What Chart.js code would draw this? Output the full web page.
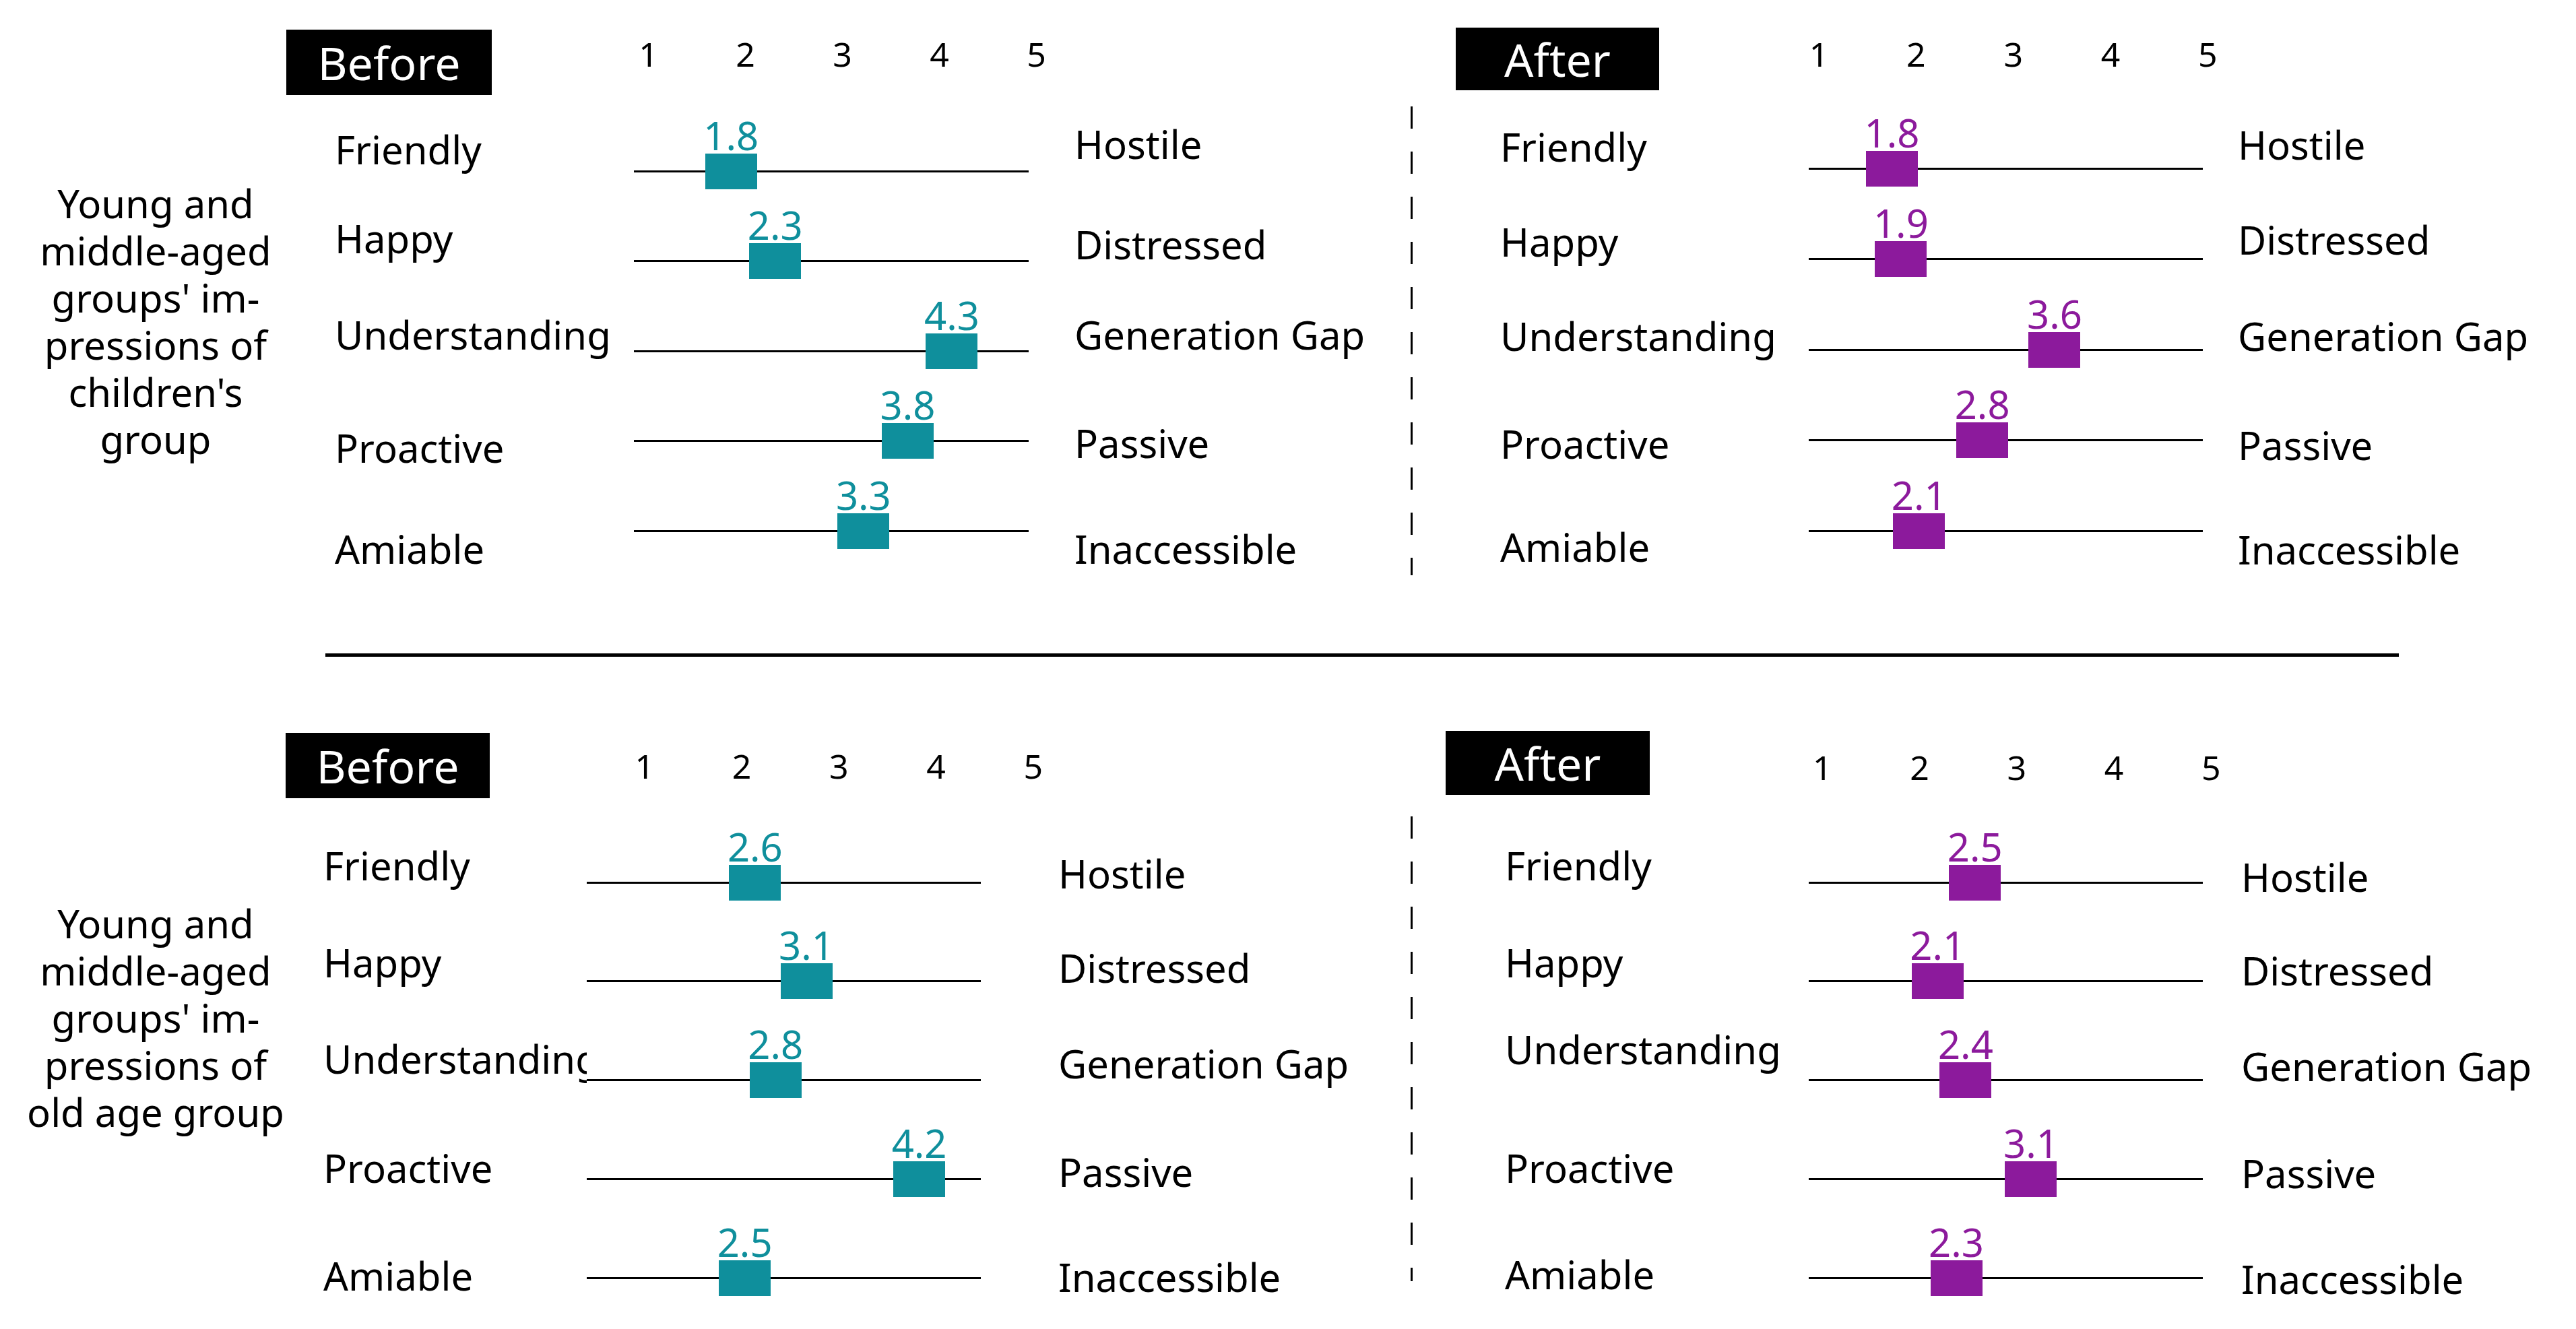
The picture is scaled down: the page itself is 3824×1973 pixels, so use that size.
<!DOCTYPE html>
<html><head><meta charset="utf-8">
<script src="https://cdn.jsdelivr.net/npm/chart.js@4.4.1/dist/chart.umd.min.js"></script>
<style>
html,body{margin:0;padding:0;background:#fff;width:3824px;height:1973px;overflow:hidden;font-family:"Noto Sans",sans-serif;}
.tag{position:absolute;background:#000;color:#fff;font-size:68px;display:flex;align-items:center;justify-content:center;}
.group{position:absolute;text-align:center;font-size:58px;line-height:70px;color:#000;white-space:nowrap;}
.hsep{position:absolute;background:#000;}
.vdash{position:absolute;width:3px;background:repeating-linear-gradient(to bottom,#000 0 33px,transparent 33px 67px);}
canvas{position:absolute;}
</style></head><body>
<script>
// ---- data ----
const leftLabels = ['Friendly', 'Happy', 'Understanding', 'Proactive', 'Amiable'];
const rightLabels = ['Hostile', 'Distressed', 'Generation Gap', 'Passive', 'Inaccessible'];
const tickLabels = [1, 2, 3, 4, 5];
const childrenBefore = [1.8, 2.3, 4.3, 3.8, 3.3];
const childrenAfter = [1.8, 1.9, 3.6, 2.8, 2.1];
const elderlyBefore = [2.6, 3.1, 2.8, 4.2, 2.5];
const elderlyAfter = [2.5, 2.1, 2.4, 3.1, 2.3];
const panelTitles = ['Before', 'After'];
const groupTitleChildren = ['Young and', 'middle-aged', "groups' im-", 'pressions of', "children's", 'group'];
const groupTitleElderly = ['Young and', 'middle-aged', "groups' im-", 'pressions of', 'old age group'];

// ---- styles ----
const TEAL = '#0F8F9C';
const PURPLE = '#8C1A9C';
const FONT = '"Noto Sans", sans-serif';
const MARK_W = 77, MARK_H = 53;

function addDiv(cls, css, html) {
  const d = document.createElement('div');
  d.className = cls;
  Object.assign(d.style, css);
  if (html !== undefined) d.innerHTML = html;
  document.body.appendChild(d);
  return d;
}

// titles
addDiv('tag', {left:'425px', top:'44px', width:'305px', height:'97px'}, panelTitles[0]);
addDiv('tag', {left:'2161px', top:'41px', width:'302px', height:'93px'}, panelTitles[1]);
addDiv('tag', {left:'424px', top:'1088px', width:'303px', height:'97px'}, panelTitles[0]);
addDiv('tag', {left:'2146px', top:'1085px', width:'303px', height:'95px'}, panelTitles[1]);

addDiv('group', {left:'31px', top:'267px', width:'400px'}, groupTitleChildren.join('<br>'));
addDiv('group', {left:'31px', top:'1336px', width:'400px'}, groupTitleElderly.join('<br>'));

addDiv('hsep', {left:'483px', top:'970px', width:'3078px', height:'5px'});
addDiv('vdash', {left:'2094px', top:'158px', height:'696px'});
addDiv('vdash', {left:'2094px', top:'1212px', height:'690px'});

const valueLabelPlugin = {
  id: 'valueLabels',
  afterDatasetsDraw(chart) {
    const ctx = chart.ctx;
    const meta = chart.getDatasetMeta(0);
    const ds = chart.data.datasets[0];
    ctx.save();
    ctx.font = '58px ' + FONT;
    ctx.fillStyle = ds.labelColor;
    ctx.textAlign = 'center';
    ctx.textBaseline = 'alphabetic';
    meta.data.forEach((pt, i) => {
      ctx.fillText(ds.data[i].x.toFixed(1), pt.x, pt.y - MARK_H / 2 - 5);
    });
    ctx.restore();
  }
};

function makeChart(p) {
  const cv = document.createElement('canvas');
  const W = p.leftW + p.plotW + p.rightW;
  const H = p.topH + p.plotH + p.padB;
  cv.width = W; cv.height = H;
  Object.assign(cv.style, {left: p.left + 'px', top: p.top + 'px', width: W + 'px', height: H + 'px'});
  document.body.appendChild(cv);

  const marker = document.createElement('canvas');
  marker.width = MARK_W; marker.height = MARK_H;
  const mc = marker.getContext('2d');
  mc.fillStyle = p.color;
  mc.fillRect(0, 0, MARK_W, MARK_H);

  const labelFont = {family: FONT, size: 58};
  const noPad = s => { s.paddingTop = 0; s.paddingBottom = 0; };
  new Chart(cv, {
    type: 'scatter',
    data: {
      labels: leftLabels,
      datasets: [{
        data: p.values.map((v, i) => ({x: v, y: leftLabels[i]})),
        pointStyle: marker,
        radius: 10, hoverRadius: 10,
        clip: false,
        labelColor: p.color
      }]
    },
    options: {
      responsive: false,
      animation: false,
      devicePixelRatio: 1,
      events: [],
      layout: {autoPadding: false, padding: {left: 0, right: 0, top: 0, bottom: p.padB}},
      plugins: {legend: {display: false}, tooltip: {enabled: false}},
      scales: {
        x: {type: 'linear', display: false, min: p.xMin, max: p.xMax},
        xt: {
          type: 'linear', position: 'top', min: p.tMin, max: p.tMax,
          grid: {display: false, drawTicks: false}, border: {display: false},
          ticks: {font: {family: FONT, size: 50}, color: '#000', padding: p.tickPad, autoSkip: false, maxRotation: 0},
          afterBuildTicks: s => { s.ticks = tickLabels.map(v => ({value: v})); },
          afterFit: s => { s.height = p.topH; s.paddingLeft = 0; s.paddingRight = 0; }
        },
        y: {
          type: 'category', labels: leftLabels, position: 'left', offset: false,
          grid: {color: '#000', lineWidth: 3, drawTicks: false, offset: false},
          border: {display: false},
          ticks: {display: false},
          afterFit: s => { s.width = 0; noPad(s); }
        },
        yl: {
          type: 'linear', position: 'left', min: 0, max: leftLabels.length - 1, reverse: true,
          grid: {display: false, drawTicks: false}, border: {display: false},
          afterBuildTicks: s => { s.ticks = leftLabels.map((_, i) => ({value: i + p.lOff[i]})); },
          ticks: {crossAlign: 'far', font: labelFont, color: '#000', padding: 0, autoSkip: false,
                  callback: (v, i) => leftLabels[i]},
          afterFit: s => { s.width = p.leftW; noPad(s); }
        },
        yr: {
          type: 'linear', position: 'right', min: 0, max: rightLabels.length - 1, reverse: true,
          grid: {display: false, drawTicks: false}, border: {display: false},
          afterBuildTicks: s => { s.ticks = rightLabels.map((_, i) => ({value: i + p.rOff[i]})); },
          ticks: {crossAlign: 'near', font: labelFont, color: '#000', padding: p.padR, autoSkip: false,
                  callback: (v, i) => rightLabels[i]},
          afterFit: s => { s.width = p.rightW; noPad(s); }
        }
      }
    },
    plugins: [valueLabelPlugin]
  });
}

makeChart({values: childrenBefore, color: TEAL, left: 497, top: 0, leftW: 444, plotW: 586, rightW: 560, padR: 68,
  topH: 254, plotH: 534, padB: 70, xMin: 0.70, xMax: 5.17, tMin: 0.85, tMax: 4.92, tickPad: 139,
  lOff: [-0.20, -0.21, -0.14, 0.12, 0.24], rOff: [-0.26, -0.14, -0.14, 0.07, 0.24]});
makeChart({values: childrenAfter, color: PURPLE, left: 2227, top: 0, leftW: 458, plotW: 585, rightW: 554, padR: 52,
  topH: 250, plotH: 538, padB: 70, xMin: 0.88, xMax: 5.24, tMin: 0.895, tMax: 4.95, tickPad: 135,
  lOff: [-0.20, -0.15, -0.11, 0.08, 0.22], rOff: [-0.22, -0.17, -0.11, 0.10, 0.25]});
makeChart({values: elderlyBefore, color: TEAL, left: 480, top: 990, leftW: 391, plotW: 585, rightW: 620, padR: 115,
  topH: 320, plotH: 587, padB: 70, xMin: 0.96, xMax: 4.80, tMin: 0.405, tMax: 4.46, tickPad: 138,
  lOff: [-0.13, -0.15, -0.18, -0.07, 0.02], rOff: [-0.05, -0.10, -0.13, -0.03, 0.03]});
makeChart({values: elderlyAfter, color: PURPLE, left: 2234, top: 990, leftW: 451, plotW: 585, rightW: 555, padR: 57,
  topH: 320, plotH: 587, padB: 70, xMin: 0.72, xMax: 4.94, tMin: 0.86, tMax: 4.915, tickPad: 136,
  lOff: [-0.13, -0.15, -0.27, -0.07, 0.0], rOff: [-0.02, -0.07, -0.10, -0.02, 0.05]});
</script>
</body></html>
